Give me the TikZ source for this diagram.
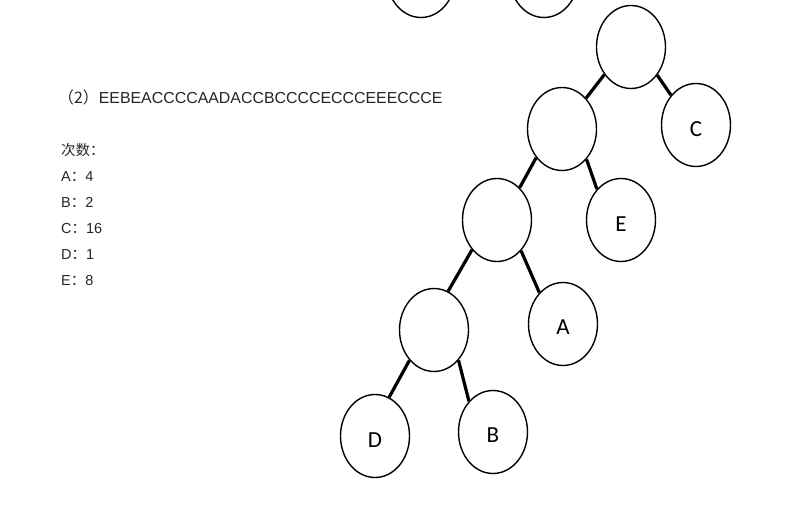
\documentclass[tikz,border=0pt]{standalone}
\usepackage{fontspec}
\setmainfont{Liberation Sans}
\newfontfamily\cjk{Noto Sans CJK SC}
\newfontfamily\lbl{Carlito}
\usetikzlibrary{shapes.geometric}
\begin{document}
\begin{tikzpicture}[x=1pt,y=-1pt,
  nd/.style={draw,line width=1.4pt,ellipse,minimum width=69pt,minimum height=83pt,inner sep=0pt},
  lab/.style={font=\lbl\fontsize{23}{23}\selectfont,inner sep=0pt},
  edge/.style={line width=3.2pt},
  txt/.style={anchor=base west,inner sep=0pt,text=black!85,font=\fontsize{14.5}{14.5}\selectfont}]
\useasboundingbox[fill=white] (0,0) rectangle (785,505);
\node[nd] (t1) at (421,-24) {};
\node[nd] (t2) at (544,-24) {};
\node[nd] (r) at (631,47) {};
\node[nd] (c) at (696,125) {};
\node[nd] (n2) at (562,129) {};
\node[nd] (e) at (621,220) {};
\node[nd] (n3) at (497,220) {};
\node[nd] (a) at (563,324) {};
\node[nd] (n4) at (434,330) {};
\node[nd] (d) at (375,436) {};
\node[nd] (b) at (493,432) {};
\node[lab] (lc) at (696,129) {C};
\node[lab] (le) at (621,224) {E};
\node[lab] (lA) at (563,327) {A};
\node[lab] (lD) at (375,440) {D};
\node[lab] (lB) at (493,435) {B};
\draw[edge] (r.226) -- (n2.52);
\draw[edge] (r.313) -- (c.130);
\draw[edge] (n2.228) -- (n3.55);
\draw[edge] (n2.309) -- (e.128);
\draw[edge] (n3.230) -- (n4.70);
\draw[edge] (n3.308) -- (a.127);
\draw[edge] (n4.231) -- (d.70);
\draw[edge] (n4.309) -- (b.128);
\node[txt,font=\fontsize{15.9}{15.9}\selectfont] (seq) at (58,104) {{\cjk （2）}EEBEACCCCAADACCBCCCCECCCEEECCCE};
\node[txt] (h) at (61,156) {{\cjk 次数：}};
\node[txt] (la) at (61,182) {A{\cjk ：}4};
\node[txt] (lb) at (61,208) {B{\cjk ：}2};
\node[txt] (lcc) at (61,234) {C{\cjk ：}16};
\node[txt] (ld) at (61,260) {D{\cjk ：}1};
\node[txt] (lee) at (61,286) {E{\cjk ：}8};
\end{tikzpicture}
\end{document}
